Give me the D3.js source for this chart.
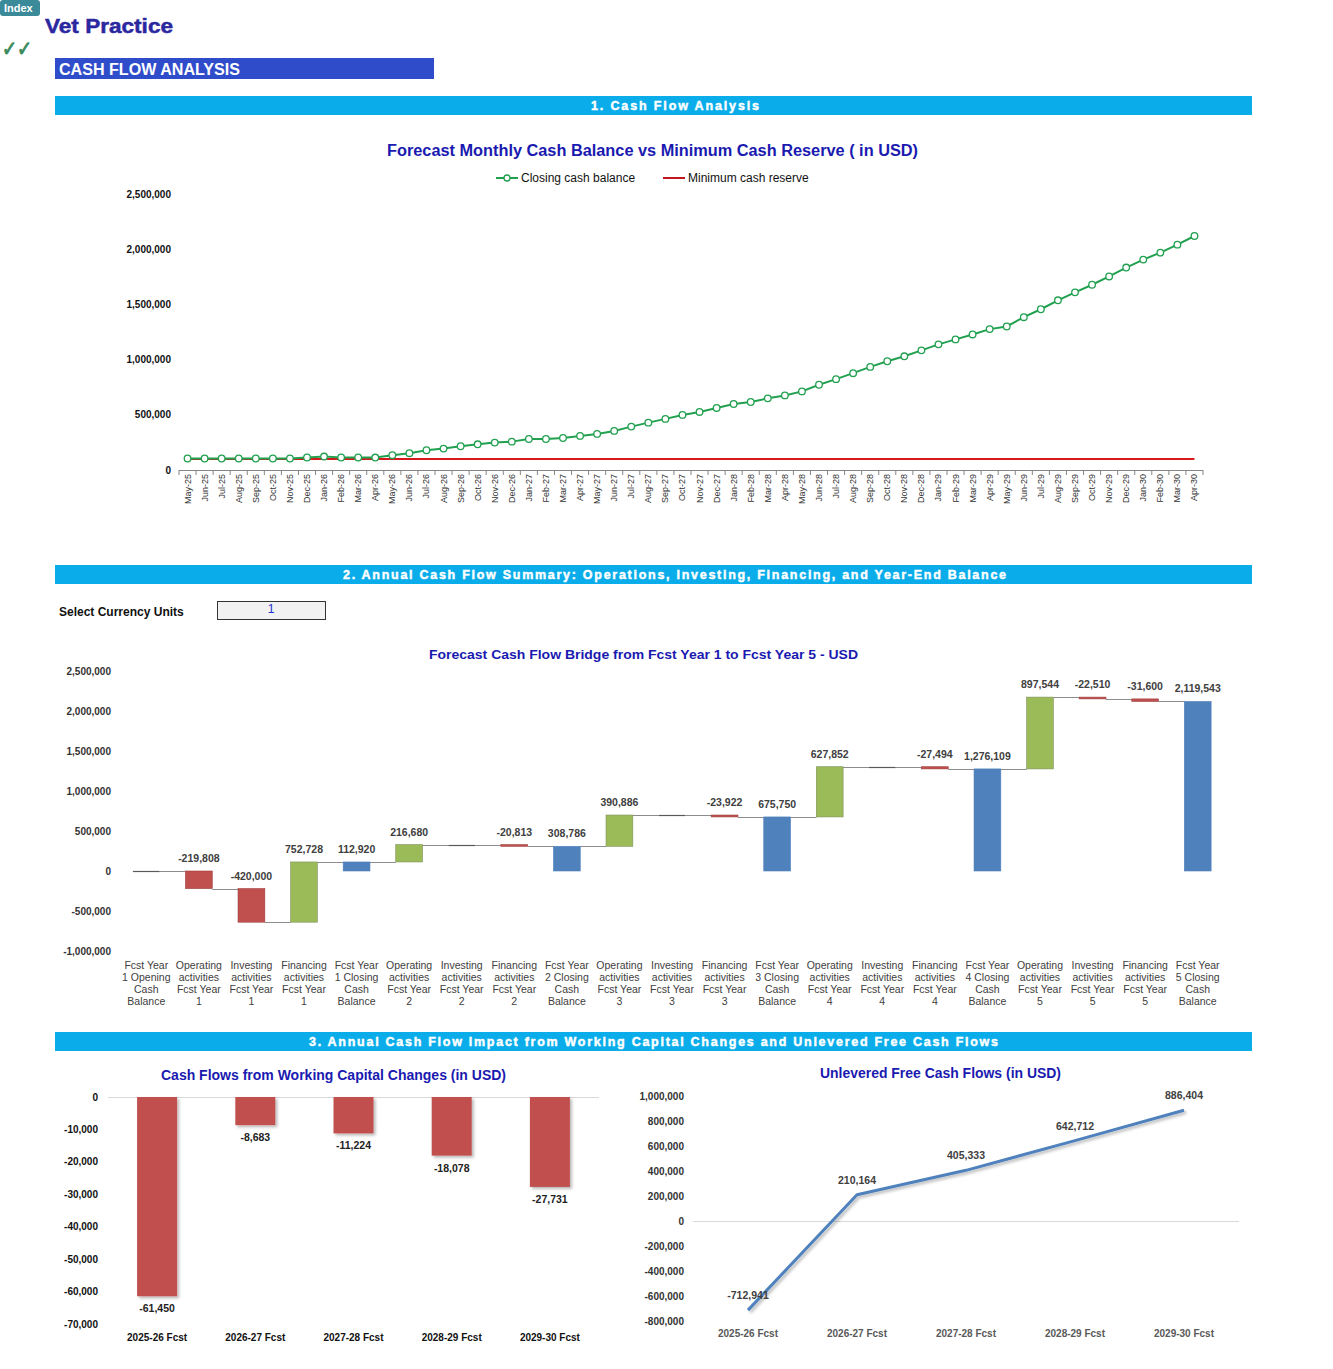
<!DOCTYPE html>
<html><head><meta charset="utf-8">
<script src="https://cdn.jsdelivr.net/npm/d3@7"></script>
<style>
body{margin:0;background:#fff;}
svg{display:block;font-family:"Liberation Sans",Arial,Helvetica,sans-serif;}
</style>
</head><body>
<svg id="c" width="1333" height="1369"></svg>
<script>
// ---------------- DATA ----------------
const months = ["May-25","Jun-25","Jul-25","Aug-25","Sep-25","Oct-25","Nov-25","Dec-25","Jan-26","Feb-26","Mar-26","Apr-26",
"May-26","Jun-26","Jul-26","Aug-26","Sep-26","Oct-26","Nov-26","Dec-26","Jan-27","Feb-27","Mar-27","Apr-27",
"May-27","Jun-27","Jul-27","Aug-27","Sep-27","Oct-27","Nov-27","Dec-27","Jan-28","Feb-28","Mar-28","Apr-28",
"May-28","Jun-28","Jul-28","Aug-28","Sep-28","Oct-28","Nov-28","Dec-28","Jan-29","Feb-29","Mar-29","Apr-29",
"May-29","Jun-29","Jul-29","Aug-29","Sep-29","Oct-29","Nov-29","Dec-29","Jan-30","Feb-30","Mar-30","Apr-30"];
const closingCash = [104000,104000,104000,104000,104000,104000,104000,113000,122000,113000,113000,112920,
134000,152000,179000,194000,215000,233000,248000,257000,281000,281000,290000,308786,
327000,354000,393000,429000,463000,499000,526000,562000,598000,616000,649000,675750,
712000,772000,823000,877000,934000,985000,1030000,1084000,1138000,1183000,1228000,1276109,
1300000,1384000,1456000,1537000,1609000,1678000,1753000,1834000,1906000,1969000,2041000,2119543];
const minCashReserve = months.map(() => 100000);
const lineTicks = [0,500000,1000000,1500000,2000000,2500000];

const bridgeCategories = [
"Fcst Year\n1 Opening\nCash\nBalance","Operating\nactivities\nFcst Year\n1","Investing\nactivities\nFcst Year\n1","Financing\nactivities\nFcst Year\n1","Fcst Year\n1 Closing\nCash\nBalance",
"Operating\nactivities\nFcst Year\n2","Investing\nactivities\nFcst Year\n2","Financing\nactivities\nFcst Year\n2","Fcst Year\n2 Closing\nCash\nBalance",
"Operating\nactivities\nFcst Year\n3","Investing\nactivities\nFcst Year\n3","Financing\nactivities\nFcst Year\n3","Fcst Year\n3 Closing\nCash\nBalance",
"Operating\nactivities\nFcst Year\n4","Investing\nactivities\nFcst Year\n4","Financing\nactivities\nFcst Year\n4","Fcst Year\n4 Closing\nCash\nBalance",
"Operating\nactivities\nFcst Year\n5","Investing\nactivities\nFcst Year\n5","Financing\nactivities\nFcst Year\n5","Fcst Year\n5 Closing\nCash\nBalance"];
const bridgeValues = [0,-219808,-420000,752728,112920, 216680,0,-20813,308786, 390886,0,-23922,675750, 627852,0,-27494,1276109, 897544,-22510,-31600,2119543];
const bridgeKinds = ["total","delta","delta","delta","total","delta","delta","delta","total","delta","delta","delta","total","delta","delta","delta","total","delta","delta","delta","total"];
const bridgeTicks = [-1000000,-500000,0,500000,1000000,1500000,2000000,2500000];

const fcstYears = ["2025-26 Fcst","2026-27 Fcst","2027-28 Fcst","2028-29 Fcst","2029-30 Fcst"];
const wcValues = [-61450,-8683,-11224,-18078,-27731];
const wcTicks = [0,-10000,-20000,-30000,-40000,-50000,-60000,-70000];
const fcfValues = [-712941,210164,405333,642712,886404];
const fcfTicks = [1000000,800000,600000,400000,200000,0,-200000,-400000,-600000,-800000];

// ---------------- DRAW ----------------
const svg = d3.select("#c");
const fmt = d3.formatLocale({decimal:".",thousands:",",grouping:[3],currency:["$",""],minus:"-"}).format(",");
const defs = svg.append("defs");
const sh = defs.append("filter").attr("id","shadow").attr("x","-20%").attr("y","-20%").attr("width","140%").attr("height","140%");
sh.append("feDropShadow").attr("dx",2).attr("dy",2).attr("stdDeviation",1.6).attr("flood-color","#000").attr("flood-opacity",0.28);

// page header
svg.append("rect").attr("x",0).attr("y",0).attr("width",40).attr("height",16).attr("rx",3).attr("fill","#3b8a99");
svg.append("text").attr("x",4).attr("y",12).attr("fill","#fff").attr("font-size",11).attr("font-weight","bold").text("Index");
svg.append("text").attr("x",45).attr("y",33).attr("fill","#2b279f").attr("stroke","#2b279f").attr("stroke-width",0.5)
  .attr("font-size",21).attr("font-weight","bold")
  .attr("textLength",128).attr("lengthAdjust","spacingAndGlyphs").text("Vet Practice");
svg.append("text").attr("x",2).attr("y",56).attr("fill","#3a8a5a").attr("stroke","#3a8a5a").attr("stroke-width",1)
  .attr("font-size",21).attr("font-family","DejaVu Sans").attr("textLength",30).attr("lengthAdjust","spacingAndGlyphs").text("✓✓");
svg.append("rect").attr("x",55).attr("y",58).attr("width",379).attr("height",21).attr("fill","#2f4ccb");
svg.append("text").attr("x",59).attr("y",75).attr("fill","#fff").attr("font-size",16).attr("font-weight","bold")
  .attr("textLength",181).attr("lengthAdjust","spacingAndGlyphs").text("CASH FLOW ANALYSIS");

function header(y, txt, x1, x2){
  svg.append("rect").attr("x",55).attr("y",y).attr("width",1197).attr("height",19).attr("fill","#0aadea");
  svg.append("text").attr("x",x1).attr("y",y+14).attr("fill","#fff").attr("stroke","#fff").attr("stroke-width",0.45)
    .attr("font-size",12.5).attr("font-weight","bold")
    .attr("textLength",x2-x1).attr("lengthAdjust","spacing").text(txt);
}
header(96,"1. Cash Flow Analysis",591,759);
header(565,"2. Annual Cash Flow Summary: Operations, Investing, Financing, and Year-End Balance",343,1006);
header(1032,"3. Annual Cash Flow Impact from Working Capital Changes and Unlevered Free Cash Flows",309,998);

function title(x1,x2,y,txt,size){
  svg.append("text").attr("x",x1).attr("y",y).attr("fill","#1a1ab0").attr("font-size",size).attr("font-weight","bold")
    .attr("textLength",x2-x1).attr("lengthAdjust","spacingAndGlyphs").text(txt);
}

// ---------- Chart 1: line chart ----------
title(387,918,156,"Forecast Monthly Cash Balance vs Minimum Cash Reserve ( in USD)",16);
const xL = d3.scaleBand().domain(months).range([179,1203]);
const yL = d3.scaleLinear().domain([0,2500000]).range([470,194]);
const bw = xL.bandwidth();
const cx = m => xL(m) + bw/2;
svg.append("g").selectAll("text").data(lineTicks).join("text")
  .attr("x",171).attr("y",d=>yL(d)+3.5).attr("text-anchor","end").attr("font-size",10).attr("font-weight","bold").attr("fill","#111")
  .text(fmt);
const ax = svg.append("g").attr("stroke","#858585").attr("stroke-width",1);
ax.append("line").attr("x1",179).attr("x2",1203).attr("y1",yL(0)+0.5).attr("y2",yL(0)+0.5);
ax.selectAll("line.t").data(months.concat(["__end"])).join("line").attr("class","t")
  .attr("x1",(d,i)=>179+i*bw).attr("x2",(d,i)=>179+i*bw).attr("y1",yL(0)).attr("y2",yL(0)+5);
svg.append("g").selectAll("text").data(months).join("text")
  .attr("transform",d=>`translate(${cx(d)+3},${yL(0)+4}) rotate(-90)`)
  .attr("text-anchor","end").attr("font-size",9).attr("fill","#333").text(d=>d);
svg.append("path").datum(minCashReserve).attr("fill","none").attr("stroke","#d7191c").attr("stroke-width",2)
  .attr("d",d3.line().x((d,i)=>cx(months[i])).y(d=>yL(d)));
svg.append("path").datum(closingCash).attr("fill","none").attr("stroke","#21a04f").attr("stroke-width",2)
  .attr("d",d3.line().x((d,i)=>cx(months[i])).y(d=>yL(d)));
svg.append("g").selectAll("circle").data(closingCash).join("circle")
  .attr("cx",(d,i)=>cx(months[i])).attr("cy",d=>yL(d)).attr("r",3.3)
  .attr("fill","#fff").attr("stroke","#21a04f").attr("stroke-width",1.3);
// legend
svg.append("line").attr("x1",496).attr("x2",518).attr("y1",178).attr("y2",178).attr("stroke","#21a04f").attr("stroke-width",2);
svg.append("circle").attr("cx",507).attr("cy",178).attr("r",3).attr("fill","#fff").attr("stroke","#21a04f").attr("stroke-width",1.3);
svg.append("text").attr("x",521).attr("y",182).attr("font-size",12).attr("fill","#111").text("Closing cash balance");
svg.append("line").attr("x1",663).attr("x2",685).attr("y1",178).attr("y2",178).attr("stroke","#c0181c").attr("stroke-width",2);
svg.append("text").attr("x",688).attr("y",182).attr("font-size",12).attr("fill","#111").text("Minimum cash reserve");

// ---------- Section 2 controls ----------
svg.append("text").attr("x",59).attr("y",616).attr("font-size",12).attr("font-weight","bold").attr("fill","#111").text("Select Currency Units");
svg.append("rect").attr("x",217.5).attr("y",601.5).attr("width",108).attr("height",18).attr("fill","#f2f2f2").attr("stroke","#333");
svg.append("text").attr("x",271).attr("y",613).attr("text-anchor","middle").attr("font-size",12).attr("fill","#1c2fd0").text("1");

// ---------- Chart 2: waterfall ----------
title(429,858,659,"Forecast Cash Flow Bridge from Fcst Year 1 to Fcst Year 5 - USD",13);
const xB = d3.scaleBand().domain(d3.range(bridgeValues.length)).range([120,1224]);
const stepB = xB.bandwidth(), barW = stepB*0.51;
const yB = d3.scaleLinear().domain([-1000000,2500000]).range([951,671]);
svg.append("g").selectAll("text").data(bridgeTicks).join("text")
  .attr("x",111).attr("y",d=>yB(d)+3.5).attr("text-anchor","end").attr("font-size",10).attr("font-weight","bold").attr("fill","#333").text(fmt);
let run = 0;
const bars = bridgeValues.map((v,i)=>{
  let s,e;
  if(bridgeKinds[i]==="total"){s=0;e=v;run=v;} else {s=run;e=run+v;run=e;}
  return {i,v,s,e,kind:bridgeKinds[i],x:xB(i)+(stepB-barW)/2};
});
// connectors
svg.append("g").selectAll("line").data(bars.slice(0,-1)).join("line")
  .attr("x1",d=>d.x+barW).attr("x2",d=>bars[d.i+1].x).attr("y1",d=>Math.round(yB(d.e))+0.5).attr("y2",d=>Math.round(yB(d.e))+0.5)
  .attr("stroke","#8c8c8c").attr("stroke-width",1);
const colorOf = d => d.kind==="total" ? "#4f81bd" : (d.v<0 ? "#c0504d" : "#9bbb59");
const strokeOf = d => d.kind==="total" ? "#4f81bd" : (d.v<0 ? "#9c3d3a" : "#7f8f5a");
svg.append("g").selectAll("rect").data(bars.filter(d=>d.v!==0)).join("rect")
  .attr("x",d=>d.x).attr("width",barW)
  .attr("y",d=>yB(Math.max(d.s,d.e))).attr("height",d=>Math.abs(yB(d.s)-yB(d.e)))
  .attr("fill",colorOf).attr("stroke",strokeOf).attr("stroke-width",0.6);
svg.append("g").selectAll("line").data(bars.filter(d=>d.v===0)).join("line")
  .attr("x1",d=>d.x).attr("x2",d=>d.x+barW).attr("y1",d=>Math.round(yB(d.e))+0.5).attr("y2",d=>Math.round(yB(d.e))+0.5)
  .attr("stroke","#5a5a5a").attr("stroke-width",1.2);
svg.append("g").selectAll("text").data(bars.filter(d=>d.v!==0)).join("text")
  .attr("x",d=>d.x+barW/2).attr("y",d=>yB(Math.max(d.s,d.e))-9)
  .attr("text-anchor","middle").attr("font-size",10.5).attr("font-weight","bold").attr("fill","#404040").text(d=>fmt(d.v));
const xlab = svg.append("g").selectAll("text").data(bridgeCategories).join("text")
  .attr("text-anchor","middle").attr("font-size",10.5).attr("fill","#404040");
xlab.each(function(d,i){
  const t = d3.select(this);
  d.split("\n").forEach((ln,k)=>{
    t.append("tspan").attr("x",xB(i)+stepB/2).attr("y",969+k*12).text(ln);
  });
});

// ---------- Chart 3: working capital bars ----------
title(161,506,1080,"Cash Flows from Working Capital Changes (in USD)",14);
const xW = d3.scaleBand().domain(fcstYears).range([108,599]);
const yW = d3.scaleLinear().domain([-70000,0]).range([1324,1097]);
const wW = 40;
svg.append("line").attr("x1",108).attr("x2",599).attr("y1",yW(0)+0.5).attr("y2",yW(0)+0.5).attr("stroke","#d9d9d9");
svg.append("g").selectAll("text").data(wcTicks).join("text")
  .attr("x",98).attr("y",d=>yW(d)+3.5).attr("text-anchor","end").attr("font-size",10).attr("font-weight","bold").attr("fill","#111").text(fmt);
svg.append("g").selectAll("rect").data(wcValues).join("rect")
  .attr("x",(d,i)=>xW(fcstYears[i])+xW.bandwidth()/2-wW/2).attr("width",wW)
  .attr("y",yW(0)).attr("height",d=>yW(d)-yW(0)).attr("fill","#c0504d").attr("filter","url(#shadow)");
svg.append("g").selectAll("text").data(wcValues).join("text")
  .attr("x",(d,i)=>xW(fcstYears[i])+xW.bandwidth()/2).attr("y",d=>yW(d)+16)
  .attr("text-anchor","middle").attr("font-size",10.5).attr("font-weight","bold").attr("fill","#222").text(fmt);
svg.append("g").selectAll("text").data(fcstYears).join("text")
  .attr("x",d=>xW(d)+xW.bandwidth()/2).attr("y",1341).attr("text-anchor","middle")
  .attr("font-size",10).attr("font-weight","bold").attr("fill","#111").text(d=>d);

// ---------- Chart 4: unlevered FCF line ----------
title(820,1061,1078,"Unlevered Free Cash Flows (in USD)",14);
const xF = d3.scaleBand().domain(fcstYears).range([693.5,1238.5]);
const yF = d3.scaleLinear().domain([-800000,1000000]).range([1321,1096]);
const fx = i => xF(fcstYears[i])+xF.bandwidth()/2;
svg.append("line").attr("x1",693).attr("x2",1239).attr("y1",yF(0)+0.5).attr("y2",yF(0)+0.5).attr("stroke","#d9d9d9");
svg.append("g").selectAll("text").data(fcfTicks).join("text")
  .attr("x",684).attr("y",d=>yF(d)+3.5).attr("text-anchor","end").attr("font-size",10).attr("font-weight","bold").attr("fill","#333").text(fmt);
svg.append("path").datum(fcfValues).attr("fill","none").attr("stroke","#4f81bd").attr("stroke-width",3)
  .attr("stroke-linejoin","round").attr("filter","url(#shadow)")
  .attr("d",d3.line().x((d,i)=>fx(i)).y(d=>yF(d)));
svg.append("g").selectAll("text").data(fcfValues).join("text")
  .attr("x",(d,i)=>fx(i)).attr("y",d=>yF(d)-11).attr("text-anchor","middle")
  .attr("font-size",10.5).attr("font-weight","bold").attr("fill","#404040").text(fmt);
svg.append("g").selectAll("text").data(fcstYears).join("text")
  .attr("x",d=>xF(d)+xF.bandwidth()/2).attr("y",1337).attr("text-anchor","middle")
  .attr("font-size",10).attr("font-weight","bold").attr("fill","#595959").text(d=>d);
</script>
</body></html>
